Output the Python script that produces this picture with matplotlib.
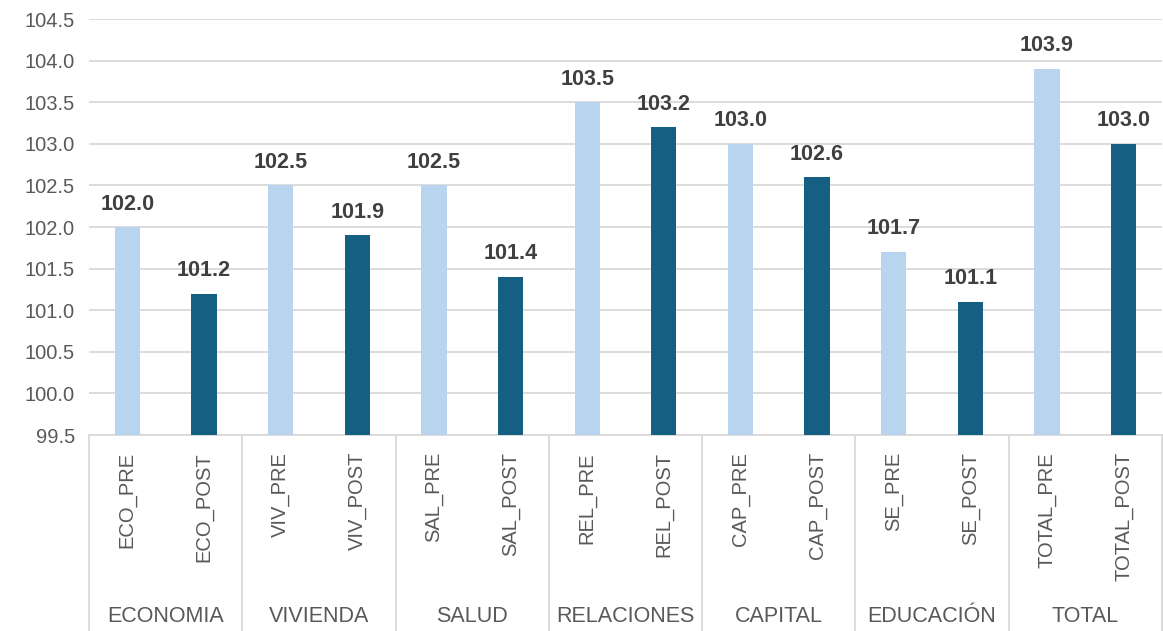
import matplotlib
matplotlib.use("Agg")
import matplotlib.pyplot as plt
import matplotlib.transforms as mtransforms

plt.rcParams['font.family'] = ['Liberation Sans', 'DejaVu Sans']

# data
groups = ['ECONOMIA', 'VIVIENDA', 'SALUD', 'RELACIONES', 'CAPITAL', 'EDUCACIÓN', 'TOTAL']
labels = ['ECO_PRE', 'ECO_POST', 'VIV_PRE', 'VIV_POST', 'SAL_PRE', 'SAL_POST',
          'REL_PRE', 'REL_POST', 'CAP_PRE', 'CAP_POST', 'SE_PRE', 'SE_POST',
          'TOTAL_PRE', 'TOTAL_POST']
values = [102.0, 101.2, 102.5, 101.9, 102.5, 101.4, 103.5, 103.2,
          103.0, 102.6, 101.7, 101.1, 103.9, 103.0]

light = '#B8D4EF'
dark = '#156082'
grid_c = '#D9D9D9'
txt_c = '#595959'

fig = plt.figure(figsize=(11.63, 6.31), dpi=100)
ax = fig.add_axes([89 / 1163, 1 - 435 / 631, 1 - 90 / 1163, (435 - 19) / 631])

x = list(range(len(values)))
colors = [light if i % 2 == 0 else dark for i in x]
base = 99.5
ax.bar(x, [v - base for v in values], bottom=base, width=0.33, color=colors, zorder=3)

for xi, v in zip(x, values):
    ax.annotate(f'{v:.1f}', (xi, v), xytext=(0, 9), textcoords='offset points',
                ha='center', va='bottom', fontsize=15.5, fontweight='bold', color='#404040')

ax.set_xlim(-0.5, len(values) - 0.5)
ax.set_ylim(99.5, 104.5)
ax.set_yticks([99.5 + 0.5 * i for i in range(11)])
ax.set_yticklabels([f'{99.5 + 0.5 * i:.1f}' for i in range(11)])
ax.tick_params(axis='y', length=0, labelsize=14.5, labelcolor=txt_c, pad=10)
ax.grid(axis='y', color=grid_c, linewidth=1.3, zorder=0)
ax.set_xticks([])
for s in ['top', 'right', 'left']:
    ax.spines[s].set_visible(False)
ax.spines['bottom'].set_color(grid_c)
ax.spines['bottom'].set_linewidth(1.3)

trans = mtransforms.blended_transform_factory(ax.transData, fig.transFigure)
for xi, lab in zip(x, labels):
    ax.text(xi, 1 - 452 / 631, lab, transform=trans, rotation=90, ha='center', va='top',
            fontsize=14.5, color=txt_c)

for g, name in enumerate(groups):
    ax.text(2 * g + 0.5, 1 - 617 / 631, name, transform=trans, ha='center', va='center',
            fontsize=15.5, color=txt_c)

for b in range(len(groups) + 1):
    xb = 2 * b - 0.5
    ax.plot([xb, xb], [1 - 435 / 631, 0], transform=trans, color=grid_c,
            linewidth=1.3, clip_on=False)

fig.savefig('out.png', dpi=100)
